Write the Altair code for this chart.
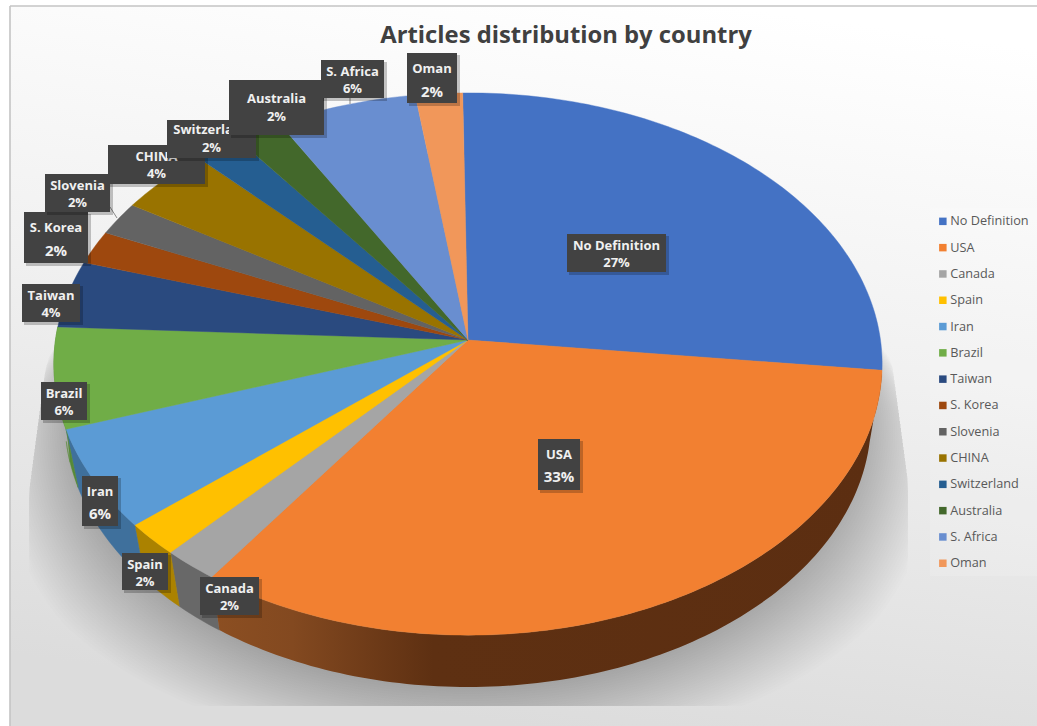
import math

import altair as alt
import numpy as np

# Share of articles per country, in percent
countries = ["No Definition", "USA", "Canada", "Spain", "Iran", "Brazil", "Taiwan",
             "S. Korea", "Slovenia", "CHINA", "Switzerland", "Australia", "S. Africa", "Oman"]
shares = [27, 33, 2, 2, 6, 6, 4, 2, 2, 4, 2, 2, 6, 2]
face_colors = ["#4472c4", "#f28031", "#a5a5a5", "#ffc000", "#5b9bd5", "#70ad47", "#2a4a7f",
               "#9e480e", "#636363", "#997300", "#255e91", "#43682b", "#698ed0", "#f1975a"]
wall_colors = {"Canada": "#686868", "Spain": "#ab8200", "Iran": "#3f709c", "Brazil": "#568a36"}

W, H = 1037, 726

# Perspective pie: top face is a tilted circle, the side wall ends on a lower ellipse
CX, CY, RX, RY, K = 468.0, 340.0, 412.5, 269.0, 0.0886
BOTTOM_CY, BOTTOM_RX, BOTTOM_RY, BOTTOM_SHRINK = 420.0, 403.0, 267.0, 0.97
FIRST_SLICE_ANGLE = -0.8


def top_point(deg):
    a = math.radians(deg)
    s = 1 / (1 + K * math.cos(a))
    return [CX + RX * math.sin(a) * s, CY - RY * math.cos(a) * s]


def bottom_point(deg):
    dx = (top_point(deg)[0] - CX) * BOTTOM_SHRINK
    u = min(abs(dx) / BOTTOM_RX, 1.0)
    return [CX + dx, BOTTOM_CY + BOTTOM_RY * math.sqrt(1 - u * u)]


def polygon(ring, **props):
    ring = [[float(x), float(y)] for x, y in ring]
    ring = ring + [ring[0]]
    return {"type": "Feature", "properties": props,
            "geometry": {"type": "Polygon", "coordinates": [ring]}}


def sweep(a, b):
    n = max(2, int(abs(b - a)) + 1)
    return np.linspace(a, b, n)


total = sum(shares)
faces, walls, usa_wall = [], [], []
start = FIRST_SLICE_ANGLE
for name, share in zip(countries, shares):
    end = start + share / total * 360
    faces.append(polygon([[CX, CY]] + [top_point(d) for d in sweep(start, end)], name=name))
    if name == "USA" or name in wall_colors:
        ring = [top_point(d) for d in sweep(start, end)] + [bottom_point(d) for d in sweep(end, start)]
        if name == "USA":
            usa_wall.append(polygon(ring, name=name))
        else:
            walls.append(polygon(ring, name=name, color=wall_colors[name]))
    start = end

# Soft floor shadow: nested translucent outlines, cut off by the shadow's bounding shape
shadow = []
for t in np.linspace(0, 1, 30):
    ring = []
    for a in np.linspace(0, 2 * math.pi, 180, endpoint=False):
        x = BOTTOM_RX * math.cos(a)
        y = BOTTOM_CY + BOTTOM_RY * math.sin(a)
        wx = min(max((y - 230) / 170, 0), 1)
        wy = min(max((y - 250) / 300, 0), 1)
        px = CX + x * (1 + 0.16 * t * wx)
        py = min(y + 70 * t * wy, 706)
        left = np.interp(py, [270, 370, 490], [75, 45, 29])
        right = np.interp(py, [250, 480], [877, 908])
        ring.append([min(max(px, left), right), py])
    shadow.append(polygon(ring, level=float(t)))

# Data label boxes: left, top, right, bottom, in drawing order
label_boxes = {
    "No Definition": (567, 234, 666, 272),
    "USA": (538, 439, 580, 490),
    "Canada": (200, 577, 259, 615),
    "Spain": (122, 553, 168, 590),
    "Iran": (82, 476, 118, 526),
    "Brazil": (41, 382, 87, 420),
    "Taiwan": (22, 284, 80, 322),
    "S. Korea": (24, 212, 88, 263),
    "Slovenia": (45, 174, 110, 212),
    "CHINA": (108, 145, 205, 184),
    "Switzerland": (167, 120, 256, 158),
    "Australia": (229, 80, 324, 135),
    "S. Africa": (321, 60, 384, 98),
    "Oman": (407, 53, 457, 103),
}
# Text offsets below the box top for the boxes that are not the regular height
label_text_offsets = {"Australia": (19, 37, 13), "USA": (15.5, 38, 15), "Iran": (15.5, 38, 15),
                      "S. Korea": (16, 39, 15), "Oman": (16, 39, 15), "Switzerland": (9.5, 28, 13)}
leader_lines = [
    {"x": 110, "x2": 117, "y": 207, "y2": 218},
    {"x": 350, "x2": 350, "y": 98, "y2": 104},
]

FONT = "Open Sans"
px_x = alt.Scale(domain=[0, W], range=[0, W], nice=False, zero=False)
px_y = alt.Scale(domain=[0, H], range=[0, H], nice=False, zero=False)


def X(field):
    return alt.X(field, type="quantitative", scale=px_x, axis=None)


def Y(field):
    return alt.Y(field, type="quantitative", scale=px_y, axis=None)


def shapes(features):
    return alt.Chart(alt.Data(values=features)).project(type="identity", scale=1, translate=[0, 0])


panel = alt.Chart(alt.Data(values=[{"x": 10, "x2": W, "y": 6, "y2": H}])).mark_rect(
    fill=alt.Gradient(gradient="linear", x1=0.7, y1=0, x2=0.5, y2=1,
                      stops=[alt.GradientStop(offset=0, color="#ffffff"),
                             alt.GradientStop(offset=0.45, color="#f1f1f1"),
                             alt.GradientStop(offset=1, color="#dcdcdc")]),
).encode(x=X("x"), x2="x2", y=Y("y"), y2="y2")

frame = alt.Chart(alt.Data(values=[
    {"x": 10, "x2": 10, "y": 6, "y2": H},
    {"x": 10, "x2": W, "y": 6, "y2": 6},
])).mark_rule(color="#c4c4c4", strokeWidth=1.6).encode(x=X("x"), x2="x2", y=Y("y"), y2="y2")

legend_panel = alt.Chart(alt.Data(values=[{"x": 930, "x2": W, "y": 208, "y2": 576}])).mark_rect(
    fill="#ffffff", opacity=0.14
).encode(x=X("x"), x2="x2", y=Y("y"), y2="y2")

shadow_layer = shapes(shadow).mark_geoshape(fill="#000000", fillOpacity=0.0075, strokeWidth=0)

wall_layer = shapes(walls).mark_geoshape(strokeWidth=0.5).encode(
    fill=alt.Fill("properties.color:N", scale=None),
    stroke=alt.Stroke("properties.color:N", scale=None),
)

usa_wall_layer = shapes(usa_wall).mark_geoshape(
    fill=alt.Gradient(gradient="linear", x1=0, y1=0, x2=1, y2=0,
                      stops=[alt.GradientStop(offset=0, color="#8c4f22"),
                             alt.GradientStop(offset=0.12, color="#834920"),
                             alt.GradientStop(offset=0.33, color="#5e3012"),
                             alt.GradientStop(offset=1, color="#5c2e11")]),
    strokeWidth=0,
)

face_layer = shapes(faces).mark_geoshape(strokeWidth=0.4).encode(
    fill=alt.Fill(
        "properties.name:N",
        scale=alt.Scale(domain=countries, range=face_colors),
        legend=alt.Legend(
            title=None, orient="none", legendX=936.5, legendY=215,
            symbolType="square", symbolSize=56, symbolStrokeWidth=0,
            labelFont=FONT, labelFontSize=12.7, labelColor="#595959",
            rowPadding=12.3, labelOffset=1, padding=0,
        ),
    ),
    stroke=alt.Stroke("properties.name:N", scale=alt.Scale(domain=countries, range=face_colors), legend=None),
)

leaders = alt.Chart(alt.Data(values=leader_lines)).mark_rule(color="#8a8a8a", strokeWidth=1).encode(
    x=X("x"), x2="x2", y=Y("y"), y2="y2"
)

label_layers = []
for name, share in zip(countries, shares):
    x0, y0, x1, y1 = label_boxes[name]
    first, second, pct_size = label_text_offsets.get(name, (12, 29, 13))
    box = {"x": x0, "x2": x1, "y": y0, "y2": y1}
    box_shadow = {"x": x0 + 2, "x2": x1 + 3, "y": y0 + 2, "y2": y1 + 3}
    mid = (x0 + x1) / 2
    lines = [
        {"x": mid, "y": y0 + first, "t": name, "fs": 13},
        {"x": mid, "y": y0 + second, "t": f"{share}%", "fs": pct_size},
    ]
    label_layers.append(
        alt.Chart(alt.Data(values=[box_shadow])).mark_rect(fill="#000000", opacity=0.22).encode(
            x=X("x"), x2="x2", y=Y("y"), y2="y2"))
    label_layers.append(
        alt.Chart(alt.Data(values=[box])).mark_rect(fill="#424242").encode(
            x=X("x"), x2="x2", y=Y("y"), y2="y2"))
    label_layers.append(
        alt.Chart(alt.Data(values=lines)).mark_text(
            font=FONT, fontWeight="bold", color="#f0f0f0", align="center", baseline="middle"
        ).encode(x=X("x"), y=Y("y"), text="t:N", size=alt.Size("fs:Q", scale=None)))

chart = alt.layer(
    panel, frame, legend_panel, shadow_layer, wall_layer, usa_wall_layer, face_layer, leaders,
    *label_layers,
).properties(
    width=W, height=H, padding=0,
    autosize=alt.AutoSizeParams(type="none"),
    title=alt.TitleParams(
        "Articles distribution by country", anchor="middle", dx=47.5, offset=-48,
        font=FONT, fontSize=23.8, fontWeight="bold", color="#404040",
    ),
).configure_view(stroke=None)

chart.save("out.html", embed_options={"renderer": "svg", "actions": False})
